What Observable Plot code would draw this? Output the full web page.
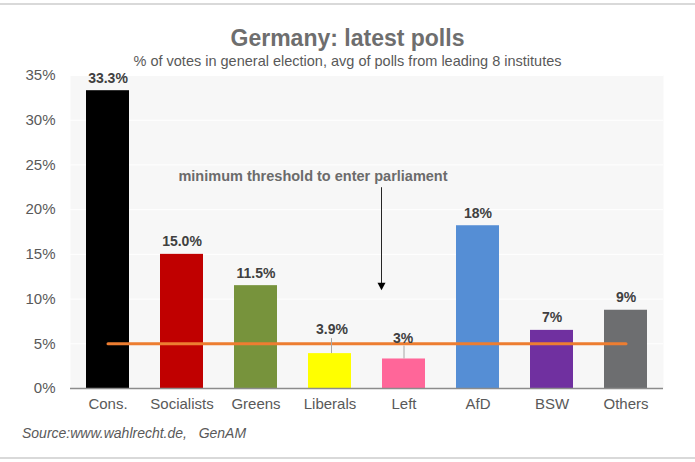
<!DOCTYPE html>
<html>
<head>
<meta charset="utf-8">
<script src="https://cdn.jsdelivr.net/npm/d3@7"></script>
<script src="https://cdn.jsdelivr.net/npm/@observablehq/plot@0.6"></script>
<style>
  html, body { margin: 0; padding: 0; background: #fff; }
  body { font-family: "Liberation Sans", Arial, sans-serif; }
  #wrap { position: relative; width: 695px; height: 462px; overflow: hidden; background: #fff; }
  .hr { position: absolute; left: 0; width: 695px; height: 2px; background: #d9d9d9; }
  #title { position: absolute; top: 27px; left: 0; width: 695px; text-align: center;
           font-size: 23px; line-height: 23px; font-weight: bold; color: #6e6e6e; }
  #subtitle { position: absolute; top: 54px; left: 0; width: 695px; text-align: center;
              font-size: 14.5px; line-height: 14.5px; color: #595959; }
  #chart { position: absolute; top: 60px; left: 0; }
  #source { position: absolute; left: 22px; top: 426px; font-size: 14px; line-height: 14px;
            font-style: italic; color: #595959; white-space: pre; }
</style>
</head>
<body>
<div id="wrap">
  <div class="hr" style="top:3px"></div>
  <div id="title">Germany: latest polls</div>
  <div id="subtitle">% of votes in general election, avg of polls from leading 8 institutes</div>
  <div id="chart"></div>
  <div id="source">Source:www.wahlrecht.de,   GenAM</div>
  <div class="hr" style="top:457px"></div>
</div>
<script>
// ---- data ----
const parties = ["Cons.", "Socialists", "Greens", "Liberals", "Left", "AfD", "BSW", "Others"];
const shares  = [33.3, 15.0, 11.5, 3.9, 3.3, 18.2, 6.5, 8.75];
const labels  = ["33.3%", "15.0%", "11.5%", "3.9%", "3%", "18%", "7%", "9%"];
const colors  = ["#000000", "#C00000", "#77933C", "#FFFF00", "#FF6699", "#558ED5", "#7030A0", "#6D6E70"];
const yTicks  = [0, 5, 10, 15, 20, 25, 30, 35];
const threshold = 5;
const annotationText = "minimum threshold to enter parliament";

// ---- layout / styling ----
const W = 695, H = 350;
const M = {top: 15, right: 32, bottom: 22, left: 70};
const yMax = 35;
const pxPerUnit = (H - M.top - M.bottom) / yMax;

const data = parties.map((p, i) => ({party: p, share: shares[i], label: labels[i], color: colors[i]}));

// labels lifted above the threshold line, with leader lines
const lifted = {
  "Liberals": {dx: 2, dy: -19.5, leader: 15, ldx: 1.5},
  "Left":     {dx: -1, dy: -16, leader: 13, ldx: 0}
};
const normal = data.filter(d => !lifted[d.party]);
const liftedData = data.filter(d => lifted[d.party]);

// annotation anchor (in data units)
const annot = {party: "Liberals", dx: -17, y: 23.2};
const arrow = {party: "Left", dx: -22.5, yTop: 22.45, yTip: 11.0};

const downTriangle = {
  draw(ctx) {
    ctx.moveTo(0, 0);
    ctx.lineTo(-4, -7.5);
    ctx.lineTo(4, -7.5);
    ctx.closePath();
  }
};

const marks = [
  Plot.frame({fill: "#f7f7f7", stroke: "none"}),
  Plot.ruleY(yTicks.filter(t => t > 0), {stroke: "#ffffff", strokeWidth: 1}),
  Plot.barY(data, {x: "party", y: "share", fill: "color"}),
  Plot.ruleY([0], {stroke: "#8c8c8c", strokeWidth: 1.5}),
  Plot.line([parties[0], parties[parties.length - 1]], {
    x: d => d, y: () => threshold, stroke: "#ED7D31", strokeWidth: 3
  }),
  Plot.text(normal, {
    x: "party", y: "share", text: "label", lineAnchor: "bottom", dy: -8,
    fontWeight: "bold", fontSize: 14, fill: "#404040"
  }),
  // annotation text and arrow
  Plot.text([annotationText], {
    x: () => annot.party, y: () => annot.y, text: d => d, dx: annot.dx,
    lineAnchor: "bottom", fontWeight: "bold", fontSize: 14.5, fill: "#6b6b6b"
  }),
  Plot.ruleX([arrow], {
    x: "party", y1: "yTop", y2: d => d.yTip + 6.5 / pxPerUnit, dx: arrow.dx,
    stroke: "#262626", strokeWidth: 1
  }),
  Plot.dot([arrow], {
    x: "party", y: "yTip", dx: arrow.dx, symbol: downTriangle, r: 4, fill: "#000", stroke: "none"
  })
];

for (const d of liftedData) {
  const o = lifted[d.party];
  marks.push(
    Plot.ruleX([d], {
      x: "party", y1: "share", y2: e => e.share + o.leader / pxPerUnit, dx: o.ldx,
      stroke: "#a6a6a6", strokeWidth: 1
    }),
    Plot.text([d], {
      x: "party", y: "share", text: "label", lineAnchor: "bottom", dx: o.dx, dy: o.dy,
      fontWeight: "bold", fontSize: 14, fill: "#404040"
    })
  );
}

const chart = Plot.plot({
  width: W,
  height: H,
  marginTop: M.top,
  marginRight: M.right,
  marginBottom: M.bottom,
  marginLeft: M.left,
  style: {
    fontFamily: "'Liberation Sans', Arial, sans-serif",
    fontSize: "15px",
    color: "#595959",
    background: "transparent",
    overflow: "visible"
  },
  x: {
    domain: parties, paddingInner: 0.42, paddingOuter: 0.21,
    tickSize: 0, tickPadding: 10, label: null
  },
  y: {
    domain: [0, yMax], ticks: yTicks, tickFormat: d => d + "%",
    tickSize: 0, tickPadding: 15, label: null
  },
  color: {type: "identity"},
  marks
});
document.getElementById("chart").appendChild(chart);
</script>
</body>
</html>
